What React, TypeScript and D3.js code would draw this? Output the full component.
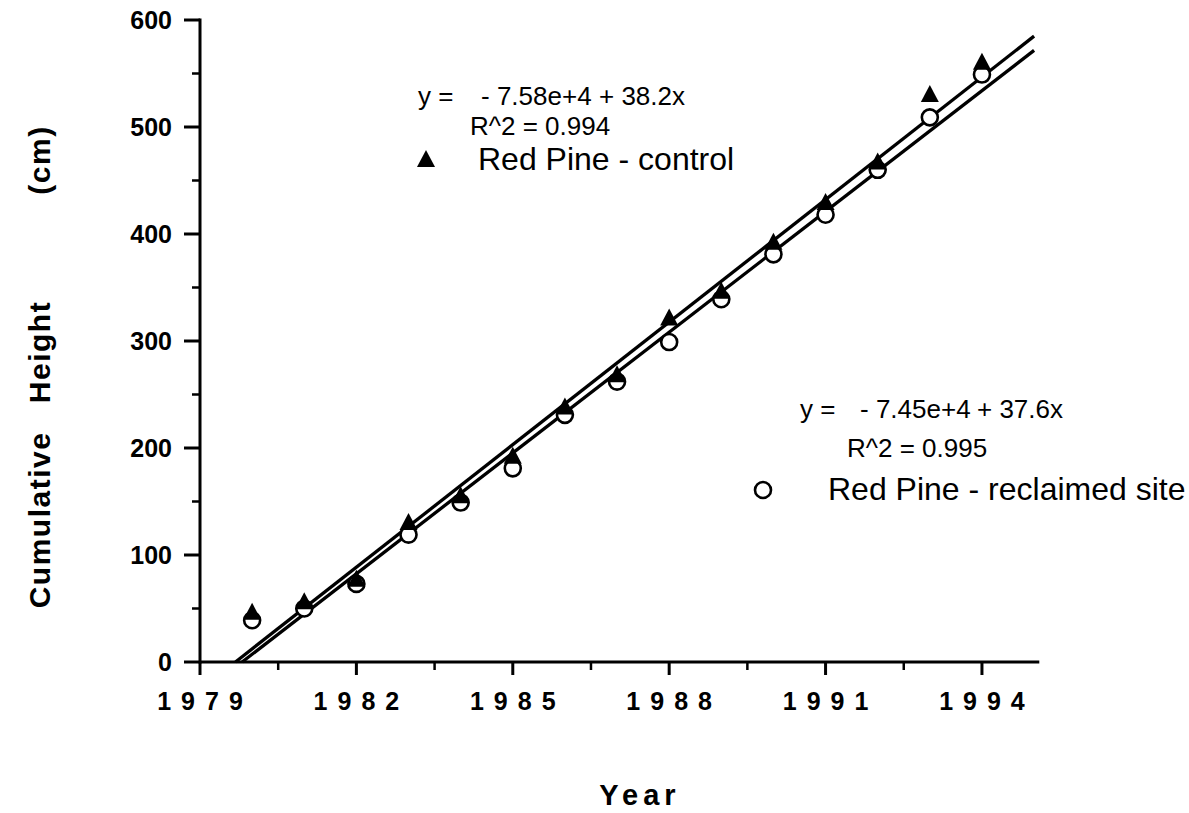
import React from "react";
import * as d3 from "d3";

// data
const years = [1980, 1981, 1982, 1983, 1984, 1985, 1986, 1987, 1988, 1989, 1990, 1991, 1992, 1993, 1994];
const controlHeights = [45, 55, 76, 129, 154, 191, 237, 267, 320, 345, 391, 428, 466, 529, 559];
const reclaimedHeights = [39, 50, 73, 119, 149, 181, 231, 262, 299, 339, 381, 418, 460, 509, 549];

const xTickYears = [1979, 1982, 1985, 1988, 1991, 1994];
const xMinorYears = [1980.5, 1983.5, 1986.5, 1989.5, 1992.5];
const yTickValues = [0, 100, 200, 300, 400, 500, 600];
const yMinorValues = [50, 150, 250, 350, 450, 550];

const controlEquation = ["y =", "- 7.58e+4", "+ 38.2x"];
const controlR2 = "R^2 = 0.994";
const controlLabel = "Red Pine - control";
const reclaimedEquation = ["y =", "- 7.45e+4", "+ 37.6x"];
const reclaimedR2 = "R^2 = 0.995";
const reclaimedLabel = "Red Pine - reclaimed site";

const yTitleWords = ["Cumulative", "Height", "(cm)"];
const xTitle = "Year";

const FONT = "'Liberation Sans', Arial, Helvetica, sans-serif";

function fit(xs: number[], ys: number[]) {
  const mx = d3.mean(xs) as number;
  const my = d3.mean(ys) as number;
  let sxy = 0, sxx = 0;
  xs.forEach((x, i) => {
    sxy += (x - mx) * (ys[i] - my);
    sxx += (x - mx) * (x - mx);
  });
  const slope = sxy / sxx;
  return { slope, intercept: my - slope * mx };
}

export default function App() {
  const width = 1189;
  const height = 813;

  const x = d3.scaleLinear().domain([1979, 1995.1]).range([200, 1039.3]);
  const y = d3.scaleLinear().domain([0, 600]).range([662, 20]);

  const lineGen = d3.line<[number, number]>()
    .x(d => x(d[0]))
    .y(d => y(d[1]));

  const fitLine = (vals: number[]) => {
    const f = fit(years, vals);
    const x0 = -f.intercept / f.slope;
    const x1 = 1995;
    return lineGen([[x0, 0], [x1, f.intercept + f.slope * x1]]) as string;
  };

  const tri = "M0,-11L9,6L-9,6Z";
  const x0 = x(1979);
  const y0 = y(0);

  return (
    <svg width={width} height={height} style={{ position: "absolute", left: 0, top: 0, background: "#fff" }}
      fontFamily={FONT}>
      <rect width={width} height={height} fill="#fff" />

      {/* y axis */}
      <line x1={x0} x2={x0} y1={y(600) - 1.5} y2={y0 + 1.5} stroke="#000" strokeWidth={3} />
      {yTickValues.map(v => (
        <g key={"yt" + v}>
          <line x1={x0 - 16} x2={x0} y1={y(v)} y2={y(v)} stroke="#000" strokeWidth={3} />
          <text x={172} y={y(v) + 9} textAnchor="end" fontSize={25} fontWeight="bold">{v}</text>
        </g>
      ))}
      {yMinorValues.map(v => (
        <line key={"ym" + v} x1={x0 - 8} x2={x0} y1={y(v)} y2={y(v)} stroke="#000" strokeWidth={2.5} />
      ))}

      {/* x axis */}
      <line x1={x0} x2={x(1995.1)} y1={y0} y2={y0} stroke="#000" strokeWidth={3} />
      {xTickYears.map(v => (
        <g key={"xt" + v}>
          <line x1={x(v)} x2={x(v)} y1={y0} y2={y0 + 13} stroke="#000" strokeWidth={3} />
          <text x={x(v) + 5} y={710} textAnchor="middle" fontSize={25} fontWeight="bold" letterSpacing={10}>{v}</text>
        </g>
      ))}
      {xMinorYears.map(v => (
        <line key={"xm" + v} x1={x(v)} x2={x(v)} y1={y0} y2={y0 + 8} stroke="#000" strokeWidth={2.5} />
      ))}

      {/* axis titles */}
      {yTitleWords.map((w, i) => (
        <text key={w} transform={`translate(50, ${[520, 352, 160][i]}) rotate(-90)`} textAnchor="middle"
          fontSize={30} fontWeight="bold" letterSpacing={1.5}>{w}</text>
      ))}
      <text x={640} y={805} textAnchor="middle" fontSize={29} fontWeight="bold" letterSpacing={5}>{xTitle}</text>

      {/* regression lines */}
      <path d={fitLine(controlHeights)} stroke="#000" strokeWidth={3.3} fill="none" />
      <path d={fitLine(reclaimedHeights)} stroke="#000" strokeWidth={3.3} fill="none" />

      {/* points */}
      {years.map((yr, i) => (
        <circle key={"c" + yr} cx={x(yr)} cy={y(reclaimedHeights[i])} r={8} fill="#fff" stroke="#000" strokeWidth={2.6} />
      ))}
      {years.map((yr, i) => (
        <path key={"t" + yr} d={tri} transform={`translate(${x(yr)}, ${y(controlHeights[i])})`} fill="#000" />
      ))}

      {/* legend: control */}
      <g fontSize={26}>
        <text x={418} y={105}>{controlEquation[0]}</text>
        <text x={481} y={105}>{controlEquation[1]}</text>
        <text x={599} y={105}>{controlEquation[2]}</text>
        <text x={470} y={135}>{controlR2}</text>
      </g>
      <path d={tri} transform="translate(426, 161)" fill="#000" />
      <text x={478} y={170} fontSize={32}>{controlLabel}</text>

      {/* legend: reclaimed */}
      <g fontSize={26}>
        <text x={800} y={418}>{reclaimedEquation[0]}</text>
        <text x={860} y={418}>{reclaimedEquation[1]}</text>
        <text x={977} y={418}>{reclaimedEquation[2]}</text>
        <text x={847} y={457}>{reclaimedR2}</text>
      </g>
      <circle cx={763} cy={490} r={8} fill="#fff" stroke="#000" strokeWidth={2.6} />
      <text x={828} y={500} fontSize={32}>{reclaimedLabel}</text>
    </svg>
  );
}
